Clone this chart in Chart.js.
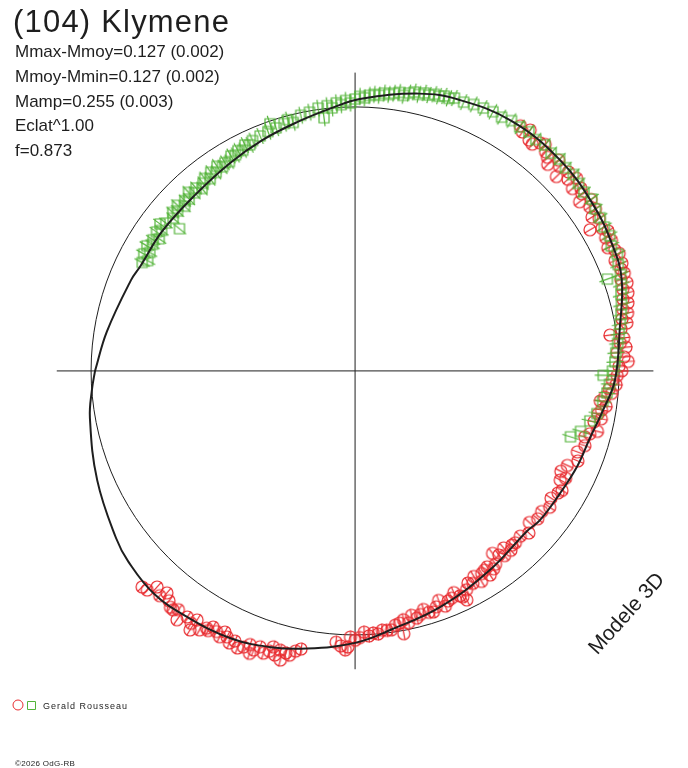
<!DOCTYPE html>
<html>
<head>
<meta charset="utf-8">
<script src="https://cdn.jsdelivr.net/npm/chart.js@4.4.1/dist/chart.umd.min.js"></script>
<style>
html, body { margin: 0; padding: 0; background: #fff; }
canvas { display: block; }
</style>
</head>
<body>
<canvas id="polar" width="688" height="768"></canvas>
<script>
// polar light curve: angle = rotational phase (deg), radius = relative brightness (circle = mean)
var title = '(104) Klymene';
var infoLines = ['Mmax-Mmoy=0.127 (0.002)', 'Mmoy-Mmin=0.127 (0.002)', 'Mamp=0.255 (0.003)', 'Eclat^1.00', 'f=0.873'];
var observer = 'Gerald Rousseau';
var copyright = '\u00a92026 OdG-RB';
var modelLabel = 'Modele 3D';

var modelAngle = [180, 171, 158, 154, 144, 132, 121, 112, 103, 95, 89, 77, 69, 58, 46, 35, 26, 19, 9, -2, -9, -16, -23, -31, -39, -43, -56, -70, -82, -90, -100, -107, -115, -124, -132, -140, -145, -157, -170, -176, -180];
var modelRadius = [0.985, 0.952, 0.916, 0.905, 0.902, 0.901, 0.919, 0.942, 0.968, 1.000, 1.030, 1.078, 1.100, 1.117, 1.114, 1.100, 1.085, 1.068, 1.015, 0.985, 0.951, 0.925, 0.916, 0.904, 0.900, 0.890, 0.911, 0.950, 0.989, 1.030, 1.068, 1.094, 1.117, 1.128, 1.137, 1.122, 1.105, 1.061, 1.020, 0.999, 0.985];

var greenAngle = [153, 152, 151, 150, 149, 148, 147, 146, 145, 144, 143, 142, 141, 140, 139, 138, 137, 136, 135, 134,
  133, 132, 131, 130, 129, 128, 127, 126, 125, 124, 123, 122, 121, 120, 119, 118, 117, 116, 115, 114,
  112, 110, 109, 108, 106, 105, 104, 102, 100, 98, 97,
  96, 95, 94, 93, 92, 91, 90, 89, 88, 87, 86, 85, 84, 83, 82, 81, 80, 79, 78, 77, 76, 75, 74, 73, 72, 71, 70,
  68, 66, 64, 62, 60, 58, 56, 54, 52, 50, 48, 46, 44, 42, 40, 38, 36, 34, 32, 30, 28, 26, 24, 22, 20,
  20, 18, 16, 14, 12, 10, 8, 6, 4, 2, 0, -1, -3, -5, -7, -10, -12, -15, -17];
var greenRadius = [0.905, 0.890, 0.915, 0.898, 0.920, 0.905, 0.912, 0.895, 0.918, 0.906, 0.925, 0.910, 0.856, 0.900, 0.915, 0.905, 0.920, 0.898, 0.912, 0.905,
  0.925, 0.908, 0.918, 0.902, 0.915, 0.925, 0.912, 0.930, 0.918, 0.935, 0.922, 0.930, 0.925, 0.940, 0.935, 0.945, 0.938, 0.952, 0.945, 0.955,
  0.960, 0.965, 0.990, 0.968, 0.975, 0.985, 0.970, 0.990, 0.995, 1.005, 0.966,
  1.010, 1.000, 1.018, 1.010, 1.025, 1.015, 1.030, 1.040, 1.035, 1.045, 1.050, 1.048, 1.058, 1.055, 1.062, 1.068, 1.060, 1.072, 1.080, 1.075, 1.085, 1.082, 1.090, 1.088, 1.095, 1.092, 1.100,
  1.098, 1.105, 1.108, 1.112, 1.110, 1.118, 1.115, 1.120, 1.112, 1.118, 1.110, 1.115, 1.108, 1.112, 1.105, 1.100, 1.108, 1.098, 1.095, 1.090, 1.092, 1.080, 1.088, 1.075, 1.070,
  1.017, 1.060, 1.048, 1.040, 1.030, 1.020, 1.010, 1.000, 0.990, 0.985, 0.975, 0.940, 0.965, 0.958, 0.945, 0.930, 0.909, 0.884, 0.853];

var redAngle = [56, 55, 54, 53, 52, 51, 50, 49, 48, 47, 46, 45, 44, 43, 42, 41, 40, 39, 38, 37,
  36, 35, 34, 33, 32, 31, 30, 29, 28, 27, 26, 25, 24, 23, 22, 21, 20, 19, 18, 17,
  16, 15, 14, 13, 12, 11, 10, 9, 8, 7, 6, 5, 4, 3, 2, 1, 0, -1, -2, -3,
  -4, -5, -6, -7, -8, -9, -10, -11, -12,
  -14, -15, -16, -18, -20, -22, -24, -26, -27, -28, -30, -31, -33, -35, -37, -39, -41, -43, -45, -47,
  -48, -50, -51, -53, -54, -56, -56.5, -58, -60, -61, -62, -64, -64.5, -66, -67, -69, -70, -71, -73, -74,
  -76, -77, -79, -79.5, -81, -82, -84, -86, -87, -88, -90, -91, -91.5, -92, -93, -94,
  -101, -102, -103, -104.5, -105, -106.5, -108, -109, -110, -111,
  -113, -114, -115.7, -117, -118, -119, -121, -122.4, -122.5, -124.3,
  -125.6, -127.3, -128, -129, -130.3, -132.5, -133.5, -134.6,
  -103.8, -107, -112, -116.5, -120, -123, -126.5, -131, -105.8, -110.5, -114.8, -119.5,
  -49, -52, -55, -57, -59, -63, -65, -68, -72, -75, -78, -80, -83, -85, -89];
var redRadius = [1.120, 1.105, 1.128, 1.095, 1.090, 1.112, 1.120, 1.100, 1.089, 1.070, 1.110, 1.095, 1.060, 1.105, 1.085, 1.112, 1.075, 1.100, 1.090, 1.065,
  1.105, 1.085, 1.098, 1.070, 1.090, 1.038, 1.080, 1.095, 1.075, 1.090, 1.065, 1.085, 1.095, 1.070, 1.090, 1.078, 1.085, 1.065, 1.083, 1.060,
  1.075, 1.050, 1.065, 1.040, 1.055, 1.030, 1.045, 1.020, 0.975, 1.025, 1.010, 1.030, 0.995, 1.020, 1.035, 1.000, 1.010, 0.993, 0.975, 0.990,
  0.965, 0.975, 0.950, 0.936, 0.960, 0.945, 0.935, 0.950, 0.925,
  0.946, 0.920, 0.905, 0.915, 0.896, 0.910, 0.880, 0.867, 0.895, 0.880, 0.905, 0.897, 0.885, 0.900, 0.885, 0.890, 0.875, 0.900, 0.885, 0.890,
  0.888, 0.875, 0.900, 0.865, 0.905, 0.895, 0.927, 0.905, 0.899, 0.920, 0.910, 0.965, 0.948, 0.919, 0.935, 0.954, 0.925, 0.945, 0.956, 0.940,
  0.965, 0.950, 0.960, 1.012, 0.975, 0.990, 0.987, 0.995, 1.005, 0.990, 1.020, 1.008, 1.046, 1.057, 1.043, 1.030,
  1.073, 1.085, 1.105, 1.131, 1.095, 1.090, 1.124, 1.105, 1.125, 1.110,
  1.140, 1.120, 1.118, 1.130, 1.118, 1.109, 1.144, 1.117, 1.163, 1.128,
  1.159, 1.137, 1.136, 1.120, 1.102, 1.110, 1.144, 1.149,
  1.100, 1.110, 1.128, 1.105, 1.125, 1.140, 1.125, 1.128, 1.118, 1.142, 1.135, 1.130,
  0.900, 0.885, 0.915, 0.900, 0.930, 0.930, 0.940, 0.940, 0.960, 0.955, 0.975, 0.970, 0.990, 1.000, 1.010];

var axisReach = [-1.13, 1.13];
var xRange = [-1.345, 1.261];
var yRange = [-1.504, 1.405];

var RED = 'rgb(232,44,48)';
var GREEN = 'rgb(84,180,58)';
var INK = '#1e1e1e';

function toXY(angles, radii) {
  return angles.map(function (a, i) {
    var t = a * Math.PI / 180;
    return { x: radii[i] * Math.cos(t), y: radii[i] * Math.sin(t) };
  });
}

// marker with a short radial error tick
function marker(kind, color, angleDeg) {
  var c = document.createElement('canvas');
  c.width = c.height = 20;
  var g = c.getContext('2d');
  var m = 10, t = angleDeg * Math.PI / 180;
  g.strokeStyle = color;
  g.lineWidth = 1.2;
  g.beginPath();
  if (kind === 'ring') {
    g.arc(m, m, 6, 0, Math.PI * 2);
  } else {
    g.rect(m - 5, m - 5, 10, 10);
  }
  g.stroke();
  var L = kind === 'ring' ? 6.5 : 8.5;
  g.beginPath();
  g.moveTo(m - L * Math.cos(t), m + L * Math.sin(t));
  g.lineTo(m + L * Math.cos(t), m - L * Math.sin(t));
  g.stroke();
  return c;
}

var greenMarks = greenAngle.map(function (a) { return marker('box', GREEN, a); });
var redMarks = redAngle.map(function (a) { return marker('ring', RED, a); });

var decor = {
  id: 'decor',
  beforeDatasetsDraw: function (chart) {
    var ctx = chart.ctx, xs = chart.scales.x, ys = chart.scales.y;
    var cx = xs.getPixelForValue(0), cy = ys.getPixelForValue(0);
    var r = xs.getPixelForValue(1) - cx;
    ctx.save();
    ctx.strokeStyle = INK;
    ctx.lineWidth = 1;
    ctx.beginPath();
    ctx.arc(cx, cy, r, 0, Math.PI * 2);
    ctx.stroke();
    ctx.restore();
  },
  afterDraw: function (chart) {
    var ctx = chart.ctx;
    ctx.save();
    ctx.fillStyle = INK;
    ctx.textBaseline = 'alphabetic';
    ctx.font = '31px "Liberation Sans", Arial, sans-serif';
    ctx.letterSpacing = '1.2px';
    ctx.fillText(title, 13, 32);
    ctx.font = '17px "Liberation Sans", Arial, sans-serif';
    ctx.letterSpacing = '0px';
    var ys = [57, 82, 107, 131, 156];
    infoLines.forEach(function (s, i) { ctx.fillText(s, 15, ys[i]); });

    // observer legend
    ctx.lineWidth = 1;
    ctx.strokeStyle = RED;
    ctx.beginPath(); ctx.arc(18, 705, 5, 0, Math.PI * 2); ctx.stroke();
    ctx.strokeStyle = GREEN;
    ctx.beginPath(); ctx.rect(27.5, 701.5, 8, 8); ctx.stroke();
    ctx.font = '9px "Liberation Sans", Arial, sans-serif';
    ctx.letterSpacing = '1px';
    ctx.fillText(observer, 43, 709);
    ctx.font = '8px "Liberation Sans", Arial, sans-serif';
    ctx.letterSpacing = '0.3px';
    ctx.fillText(copyright, 15, 766);

    // rotated model label
    ctx.letterSpacing = '0px';
    ctx.translate(627, 614);
    ctx.rotate(-48 * Math.PI / 180);
    ctx.font = '21px "Liberation Sans", Arial, sans-serif';
    ctx.textAlign = 'center';
    ctx.textBaseline = 'middle';
    ctx.fillText(modelLabel, 0, 0);
    ctx.restore();
  }
};

new Chart(document.getElementById('polar'), {
  type: 'scatter',
  data: {
    datasets: [
      {
        label: 'modele',
        data: toXY(modelAngle, modelRadius),
        showLine: true,
        tension: 0.4,
        borderColor: INK,
        borderWidth: 2,
        pointRadius: 0
      },
      {
        label: 'green',
        data: toXY(greenAngle, greenRadius),
        pointStyle: function (c) { return greenMarks[c.dataIndex]; }
      },
      {
        label: 'red',
        data: toXY(redAngle, redRadius),
        pointStyle: function (c) { return redMarks[c.dataIndex]; }
      },
      {
        label: 'axeX',
        data: [{ x: axisReach[0], y: 0 }, { x: axisReach[1], y: 0 }],
        showLine: true,
        borderColor: INK,
        borderWidth: 1,
        pointRadius: 0
      },
      {
        label: 'axeY',
        data: [{ x: 0, y: axisReach[0] }, { x: 0, y: axisReach[1] }],
        showLine: true,
        borderColor: INK,
        borderWidth: 1,
        pointRadius: 0
      }
    ]
  },
  options: {
    responsive: false,
    devicePixelRatio: 1,
    animation: false,
    layout: { padding: 0, autoPadding: false },
    plugins: { legend: { display: false }, tooltip: { enabled: false } },
    scales: {
      x: { type: 'linear', min: xRange[0], max: xRange[1], display: false },
      y: { type: 'linear', min: yRange[0], max: yRange[1], display: false }
    }
  },
  plugins: [decor]
});
</script>
</body>
</html>
